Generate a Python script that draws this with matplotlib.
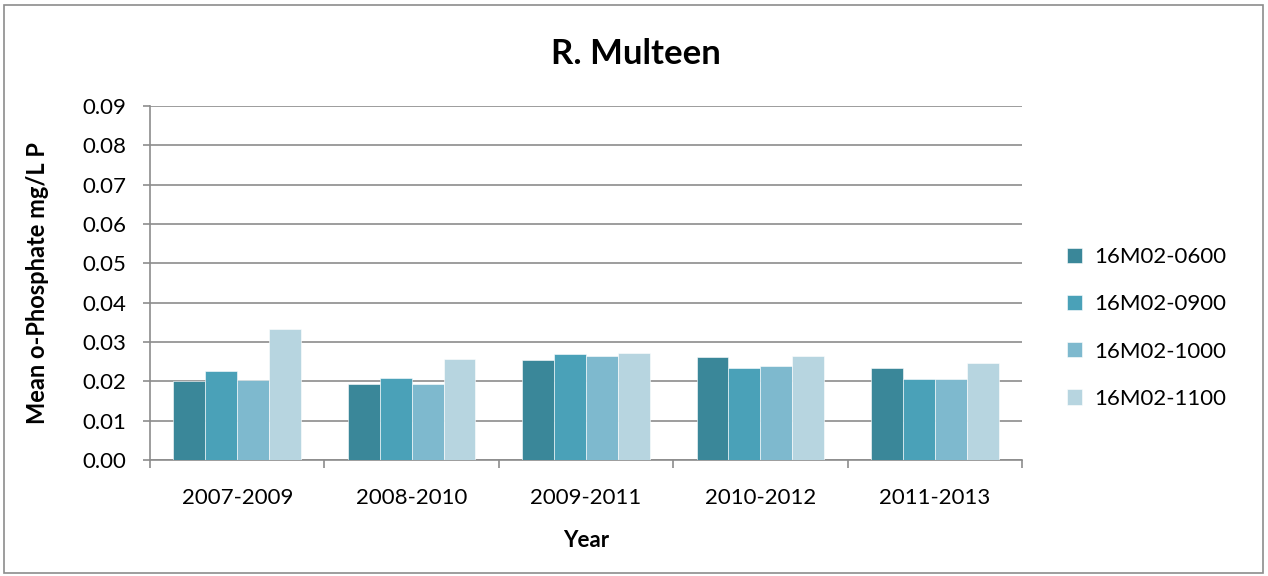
import numpy as np
import matplotlib.pyplot as plt
from matplotlib.patches import Rectangle

# Data
ls_years = ['2007-2009', '2008-2010', '2009-2011', '2010-2012', '2011-2013']
ls_sites = ['16M02-0600', '16M02-0900', '16M02-1000', '16M02-1100']
ar_0600 = [0.0202, 0.0193, 0.0255, 0.0262, 0.0234]
ar_0900 = [0.0227, 0.0209, 0.0270, 0.0234, 0.0205]
ar_1000 = [0.0204, 0.0192, 0.0265, 0.0240, 0.0207]
ar_1100 = [0.0333, 0.0258, 0.0273, 0.0265, 0.0246]
ls_colors = ['#3A8799', '#4AA1B8', '#7EB9CE', '#B7D5E0']

plt.rcParams['font.family'] = ['Lato', 'DejaVu Sans']

fig = plt.figure(figsize=(12.68, 5.76), dpi=100)
ax = fig.add_axes([150 / 1268, 116 / 576, 872 / 1268, 354 / 576])

# outer frame
fig.patches.append(Rectangle((4 / 1268, 3 / 576), 1259 / 1268, 568 / 576,
                             transform=fig.transFigure, fill=False,
                             edgecolor='#8C8C8C', linewidth=1.2))

it_n = len(ls_years)
ar_x = np.arange(it_n)
fl_w = 0.183
for it_i, (ar_v, st_c, st_lab) in enumerate(zip([ar_0600, ar_0900, ar_1000, ar_1100],
                                               ls_colors, ls_sites)):
    ax.bar(ar_x + (it_i - 1.5) * fl_w, ar_v, width=fl_w, color=st_c,
           label=st_lab, zorder=3, edgecolor='white', linewidth=0.4)

ax.set_xlim(-0.5, it_n - 0.5)
ax.set_ylim(0, 0.09)
ax.set_yticks(np.arange(0, 0.0901, 0.01))
ax.yaxis.set_major_formatter(plt.FuncFormatter(lambda v, p: f'{v:.2f}'))
ax.grid(axis='y', color='#8C8C8C', linewidth=1.2, zorder=0)

# category labels between boundary ticks
ax.set_xticks(np.arange(-0.5, it_n, 1.0))
ax.set_xticklabels([])
ax.set_xticks(ar_x, minor=True)
ax.set_xticklabels(ls_years, minor=True, fontsize=16)
ax.tick_params(axis='x', which='minor', length=0, pad=20)
ax.tick_params(axis='x', which='major', length=6, color='#8C8C8C', width=1.2)
ax.tick_params(axis='y', length=5, color='#8C8C8C', width=1.2, labelsize=16, pad=12)

for st_s in ['top', 'right']:
    ax.spines[st_s].set_visible(False)
for st_s in ['left', 'bottom']:
    ax.spines[st_s].set_color('#8C8C8C')
    ax.spines[st_s].set_linewidth(1.2)

ax.set_xlabel('Year', fontsize=16, fontweight='bold', labelpad=16)
ax.set_ylabel('Mean o-Phosphate mg/L P', fontsize=17, fontweight='bold', labelpad=24)
fig.text(636 / 1268, 1 - 54 / 576, 'R. Multeen', fontsize=25, fontweight='bold',
         ha='center', va='center')

ax.legend(loc='center left', bbox_to_anchor=(1047 / 1268, 1 - 328 / 576),
          bbox_transform=fig.transFigure, frameon=False,
          fontsize=16, handlelength=0.68, handleheight=0.68, labelspacing=1.22,
          handletextpad=0.55)

fig.savefig('out.png', dpi=100)
